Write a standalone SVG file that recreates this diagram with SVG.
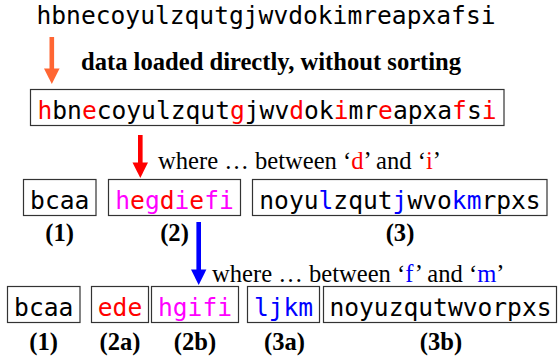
<svg xmlns="http://www.w3.org/2000/svg" width="558" height="362" viewBox="0 0 558 362">
<style>
.mono{font-family:"DejaVu Sans Mono","Liberation Mono",monospace;font-size:24.6px;fill:#000}
.serif{font-family:"Liberation Serif","Times New Roman",serif;font-size:24.6px;fill:#000}
.lbl{font-family:"Liberation Serif","Times New Roman",serif;font-size:24.6px;font-weight:bold;fill:#000}
.box{fill:#fff;stroke:#333;stroke-width:1.2}
.r{fill:#ff0000}.m{fill:#ff00ff}.b{fill:#0000ff}
</style>
<rect width="558" height="362" fill="#fff"/>
<g id="source">
<text class="mono" x="266" y="24" text-anchor="middle">hbnecoyulzqutgjwvdokimreapxafsi</text>
</g>
<g id="connectors">
<g id="arrow-load">
<rect x="49.5" y="37" width="4.6" height="32" fill="#ff6633"/>
<polygon points="44,68.5 59.6,68.5 51.8,84" fill="#ff6633"/>
</g>
<g id="arrow-di">
<rect x="138" y="135" width="4.6" height="28" fill="#ff0000"/>
<polygon points="132.5,162.5 148,162.5 140.3,178" fill="#ff0000"/>
</g>
<g id="arrow-fm">
<rect x="196.4" y="222" width="4.6" height="48" fill="#0000ff"/>
<polygon points="191,269.5 206.4,269.5 198.7,285" fill="#0000ff"/>
</g>
</g>
<g id="label-load"><text class="lbl" x="81" y="70">data loaded directly, without sorting</text></g>
<g id="label-di"><text class="serif" x="158" y="169">where … between ‘<tspan class="r">d</tspan>’ and ‘<tspan class="r">i</tspan>’</text></g>
<g id="label-fm"><text class="serif" x="212" y="282">where … between ‘<tspan class="b">f</tspan>’ and ‘<tspan class="b">m</tspan>’</text></g>
<g id="loaded">
<rect class="box" x="30.5" y="89.5" width="473.5" height="36"/>
<text class="mono" x="267" y="118.5" text-anchor="middle"><tspan class="r">h</tspan>bn<tspan class="r">e</tspan>coyulzqut<tspan class="r">g</tspan>jwv<tspan class="r">d</tspan>ok<tspan class="r">i</tspan>mr<tspan class="r">e</tspan>apxa<tspan class="r">f</tspan>s<tspan class="r">i</tspan></text>
</g>
<g id="p1">
<rect class="box" x="23.5" y="179.5" width="72.5" height="36"/>
<text class="mono" x="59.7" y="208.5" text-anchor="middle">bcaa</text>
<text class="lbl" x="59.7" y="240.5" text-anchor="middle">(1)</text>
</g>
<g id="p2">
<rect class="box" x="108.5" y="179.5" width="132" height="36"/>
<text class="mono" x="174.5" y="208.5" text-anchor="middle"><tspan class="m">h</tspan><tspan class="r">e</tspan><tspan class="m">g</tspan><tspan class="r">d</tspan><tspan class="m">i</tspan><tspan class="r">e</tspan><tspan class="m">fi</tspan></text>
<text class="lbl" x="174.5" y="240.5" text-anchor="middle">(2)</text>
</g>
<g id="p3">
<rect class="box" x="252.5" y="179.5" width="294.5" height="36"/>
<text class="mono" x="400" y="208.5" text-anchor="middle">noyu<tspan class="b">l</tspan>zqut<tspan class="b">j</tspan>wvo<tspan class="b">km</tspan>rpxs</text>
<text class="lbl" x="400" y="240.5" text-anchor="middle">(3)</text>
</g>
<g id="q1">
<rect class="box" x="7.5" y="286.5" width="72.5" height="36"/>
<text class="mono" x="43.7" y="315.5" text-anchor="middle">bcaa</text>
<text class="lbl" x="43.7" y="350" text-anchor="middle">(1)</text>
</g>
<g id="q2a">
<rect class="box" x="91.5" y="286.5" width="57" height="36"/>
<text class="mono r" x="120" y="315.5" text-anchor="middle">ede</text>
<text class="lbl" x="120" y="350" text-anchor="middle">(2a)</text>
</g>
<g id="q2b">
<rect class="box" x="151.5" y="286.5" width="87" height="36"/>
<text class="mono m" x="195" y="315.5" text-anchor="middle">hgifi</text>
<text class="lbl" x="195" y="350" text-anchor="middle">(2b)</text>
</g>
<g id="q3a">
<rect class="box" x="247.5" y="286.5" width="72" height="36"/>
<text class="mono b" x="283.5" y="315.5" text-anchor="middle">ljkm</text>
<text class="lbl" x="284.5" y="350" text-anchor="middle">(3a)</text>
</g>
<g id="q3b">
<rect class="box" x="323.5" y="286.5" width="233" height="36"/>
<text class="mono" x="440.5" y="315.5" text-anchor="middle">noyuzqutwvorpxs</text>
<text class="lbl" x="441" y="350" text-anchor="middle">(3b)</text>
</g>
</svg>
